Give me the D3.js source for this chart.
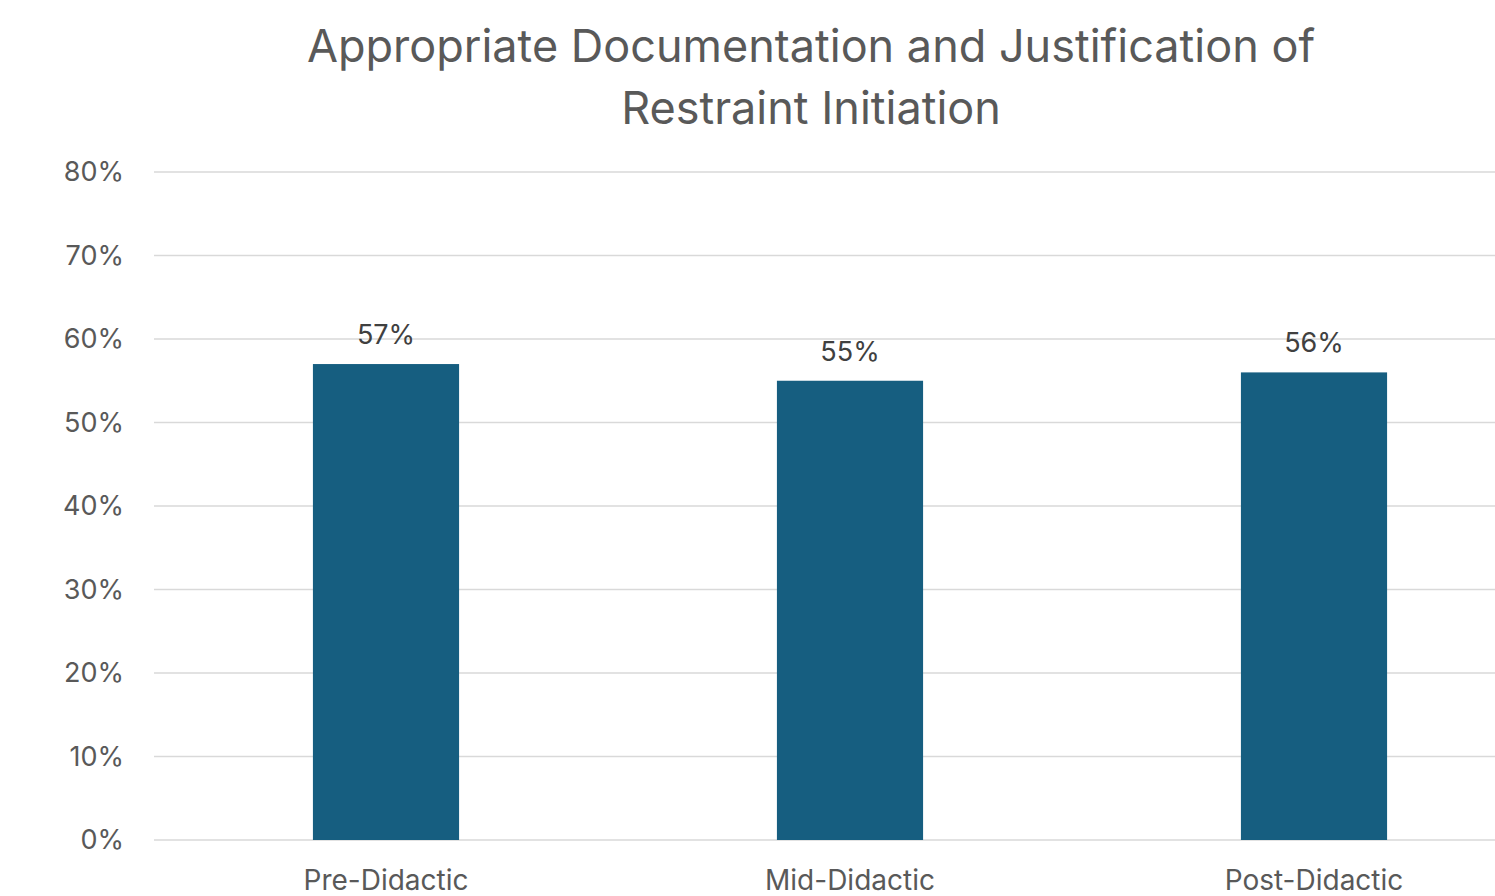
<!DOCTYPE html>
<html>
<head>
<meta charset="utf-8">
<script src="https://cdn.jsdelivr.net/npm/d3@7"></script>
<style>
  html, body { margin: 0; padding: 0; background: #fff; overflow: hidden; }
  svg { display: block; font-family: Inter, "Open Sans", sans-serif; }
</style>
</head>
<body>
<svg id="chart" width="1495" height="896"></svg>
<script>
const titleLines = ["Appropriate Documentation and Justification of", "Restraint Initiation"];
const categories = ["Pre-Didactic", "Mid-Didactic", "Post-Didactic"];
const values = [0.57, 0.55, 0.56];
const yTicks = [0, 0.1, 0.2, 0.3, 0.4, 0.5, 0.6, 0.7, 0.8];

(function () {
const svg = d3.select("#chart");
const W = 1495, H = 896;
const plotLeft = 154, plotRight = 1546, plotTop = 172, plotBottom = 840;

const x = d3.scaleBand().domain(categories).range([plotLeft, plotRight]).paddingInner(0.685).paddingOuter(0.3425);
const y = d3.scaleLinear().domain([0, 0.8]).range([plotBottom, plotTop]);
const fmt = d3.format(".0%");

// gridlines
svg.append("g").selectAll("line").data(yTicks).join("line")
  .attr("x1", plotLeft).attr("x2", W)
  .attr("y1", d => y(d)).attr("y2", d => y(d))
  .attr("stroke", "#d9d9d9").attr("stroke-width", 1.5);

// y tick labels
svg.append("g").selectAll("text").data(yTicks).join("text")
  .attr("x", 124).attr("y", d => y(d))
  .attr("dy", "0.35em")
  .attr("text-anchor", "end")
  .attr("fill", "#595959")
  .attr("font-size", 27)
  .text(d => fmt(d));

// bars
svg.append("g").selectAll("rect").data(values).join("rect")
  .attr("x", (d, i) => x(categories[i]))
  .attr("width", x.bandwidth())
  .attr("y", d => y(d))
  .attr("height", d => plotBottom - y(d))
  .attr("fill", "#165e80");

// data labels
svg.append("g").selectAll("text").data(values).join("text")
  .attr("x", (d, i) => x(categories[i]) + x.bandwidth() / 2)
  .attr("y", d => y(d) - 20)
  .attr("text-anchor", "middle")
  .attr("fill", "#404040")
  .attr("font-size", 27)
  .text(d => fmt(d));

// category labels
svg.append("g").selectAll("text").data(categories).join("text")
  .attr("x", d => x(d) + x.bandwidth() / 2)
  .attr("y", 890)
  .attr("text-anchor", "middle")
  .attr("fill", "#595959")
  .attr("font-size", 28)
  .text(d => d);

// title
svg.append("g").selectAll("text").data(titleLines).join("text")
  .attr("x", 811)
  .attr("y", (d, i) => 62 + i * 62)
  .attr("text-anchor", "middle")
  .attr("fill", "#595959")
  .attr("font-size", 45)
  .text(d => d);
})();
</script>
</body>
</html>
